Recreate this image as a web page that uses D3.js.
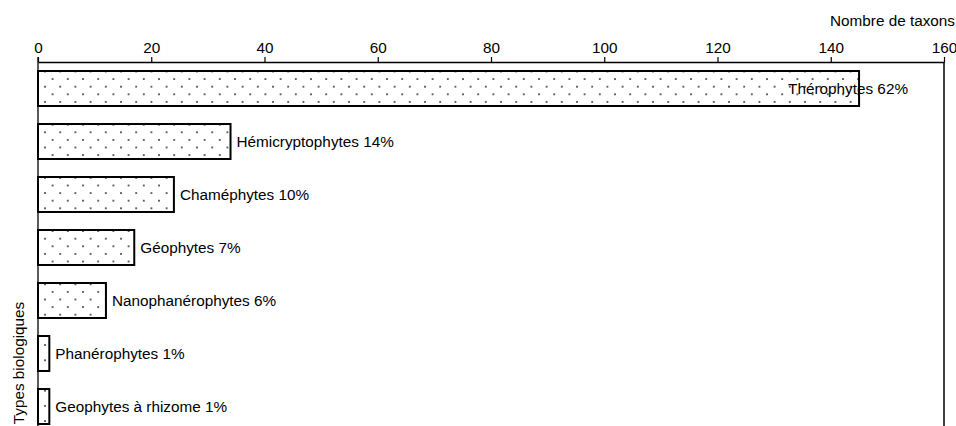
<!DOCTYPE html>
<html>
<head>
<meta charset="utf-8">
<script src="https://cdn.jsdelivr.net/npm/d3@7"></script>
<style>
  html, body { margin: 0; padding: 0; background: #fff; }
  svg { display: block; font-family: "Liberation Sans", Arial, sans-serif; }
</style>
</head>
<body>
<svg id="chart" width="956" height="426"></svg>
<script>
// Biological types of the flora: number of taxa per type
const categories = [
  "Thérophytes",
  "Hémicryptophytes",
  "Chaméphytes",
  "Géophytes",
  "Nanophanérophytes",
  "Phanérophytes",
  "Geophytes à rhizome"
];
const taxa = [145, 34, 24, 17, 12, 2, 2];
const percents = ["62%", "14%", "10%", "7%", "6%", "1%", "1%"];
const xTicks = [0, 20, 40, 60, 80, 100, 120, 140, 160];
const xTitle = "Nombre de taxons";
const yTitle = "Types biologiques";

const W = 956, H = 426;
const margin = { top: 62, right: 12, left: 38 };
const plotBottom = 433;
const fontSize = "15.3px";

const svg = d3.select("#chart");

// Dotted fill shared by every bar
const defs = svg.append("defs");
const pat = defs.append("pattern")
  .attr("id", "dots")
  .attr("patternUnits", "userSpaceOnUse")
  .attr("x", 41.2).attr("y", 82.9)
  .attr("width", 15.2).attr("height", 15.2);
pat.append("rect").attr("width", 15.2).attr("height", 15.2).attr("fill", "#fff");
pat.append("circle").attr("cx", 3.8).attr("cy", 3.8).attr("r", 0.95).attr("fill", "#2a2a2a");
pat.append("circle").attr("cx", 11.4).attr("cy", 11.4).attr("r", 0.95).attr("fill", "#2a2a2a");

const x = d3.scaleLinear()
  .domain([0, 160])
  .range([margin.left, W - margin.right]);

const y = d3.scaleBand()
  .domain(categories)
  .range([margin.top, plotBottom])
  .paddingInner(0.34)
  .paddingOuter(0.17);

// Top value axis
const xAxis = svg.append("g")
  .attr("transform", `translate(0,${margin.top})`)
  .call(d3.axisTop(x).tickValues(xTicks).tickSize(5).tickSizeOuter(0).tickPadding(4));
xAxis.select(".domain").attr("stroke", "#000").attr("stroke-width", 1.3);
xAxis.selectAll(".tick line").attr("stroke", "#000").attr("stroke-width", 1.2);
xAxis.selectAll(".tick text")
  .attr("fill", "#000")
  .style("font-size", fontSize)
  .style("font-family", "'Liberation Sans', Arial, sans-serif");

// Left category axis line and right frame edge
svg.append("line")
  .attr("x1", x(0)).attr("x2", x(0))
  .attr("y1", margin.top - 5).attr("y2", H)
  .attr("stroke", "#000").attr("stroke-width", 1.3);
svg.append("line")
  .attr("x1", x(160)).attr("x2", x(160))
  .attr("y1", margin.top).attr("y2", H)
  .attr("stroke", "#000").attr("stroke-width", 1.5);

// Axis titles
svg.append("text")
  .attr("x", W - 1).attr("y", 26)
  .attr("text-anchor", "end")
  .style("font-size", fontSize)
  .text(xTitle);

svg.append("text")
  .attr("transform", `translate(24,363) rotate(-90)`)
  .attr("text-anchor", "middle")
  .style("font-size", fontSize)
  .text(yTitle);

// Bars
const rows = categories.map((c, i) => ({ cat: c, v: taxa[i], pct: percents[i] }));

svg.append("g").selectAll("rect")
  .data(rows)
  .join("rect")
  .attr("x", x(0))
  .attr("y", d => y(d.cat))
  .attr("width", d => x(d.v) - x(0))
  .attr("height", y.bandwidth())
  .attr("fill", "url(#dots)")
  .attr("stroke", "#000")
  .attr("stroke-width", 2);

// Value labels at the end of each bar, kept inside the frame
const labels = svg.append("g").selectAll("text")
  .data(rows)
  .join("text")
  .attr("y", d => y(d.cat) + y.bandwidth() / 2)
  .attr("dy", "0.35em")
  .style("font-size", fontSize)
  .text(d => `${d.cat} ${d.pct}`);

labels.attr("x", function(d) {
  const w = this.getComputedTextLength();
  return Math.min(x(d.v) + 6, x.range()[1] - 36 - w);
});
</script>
</body>
</html>
